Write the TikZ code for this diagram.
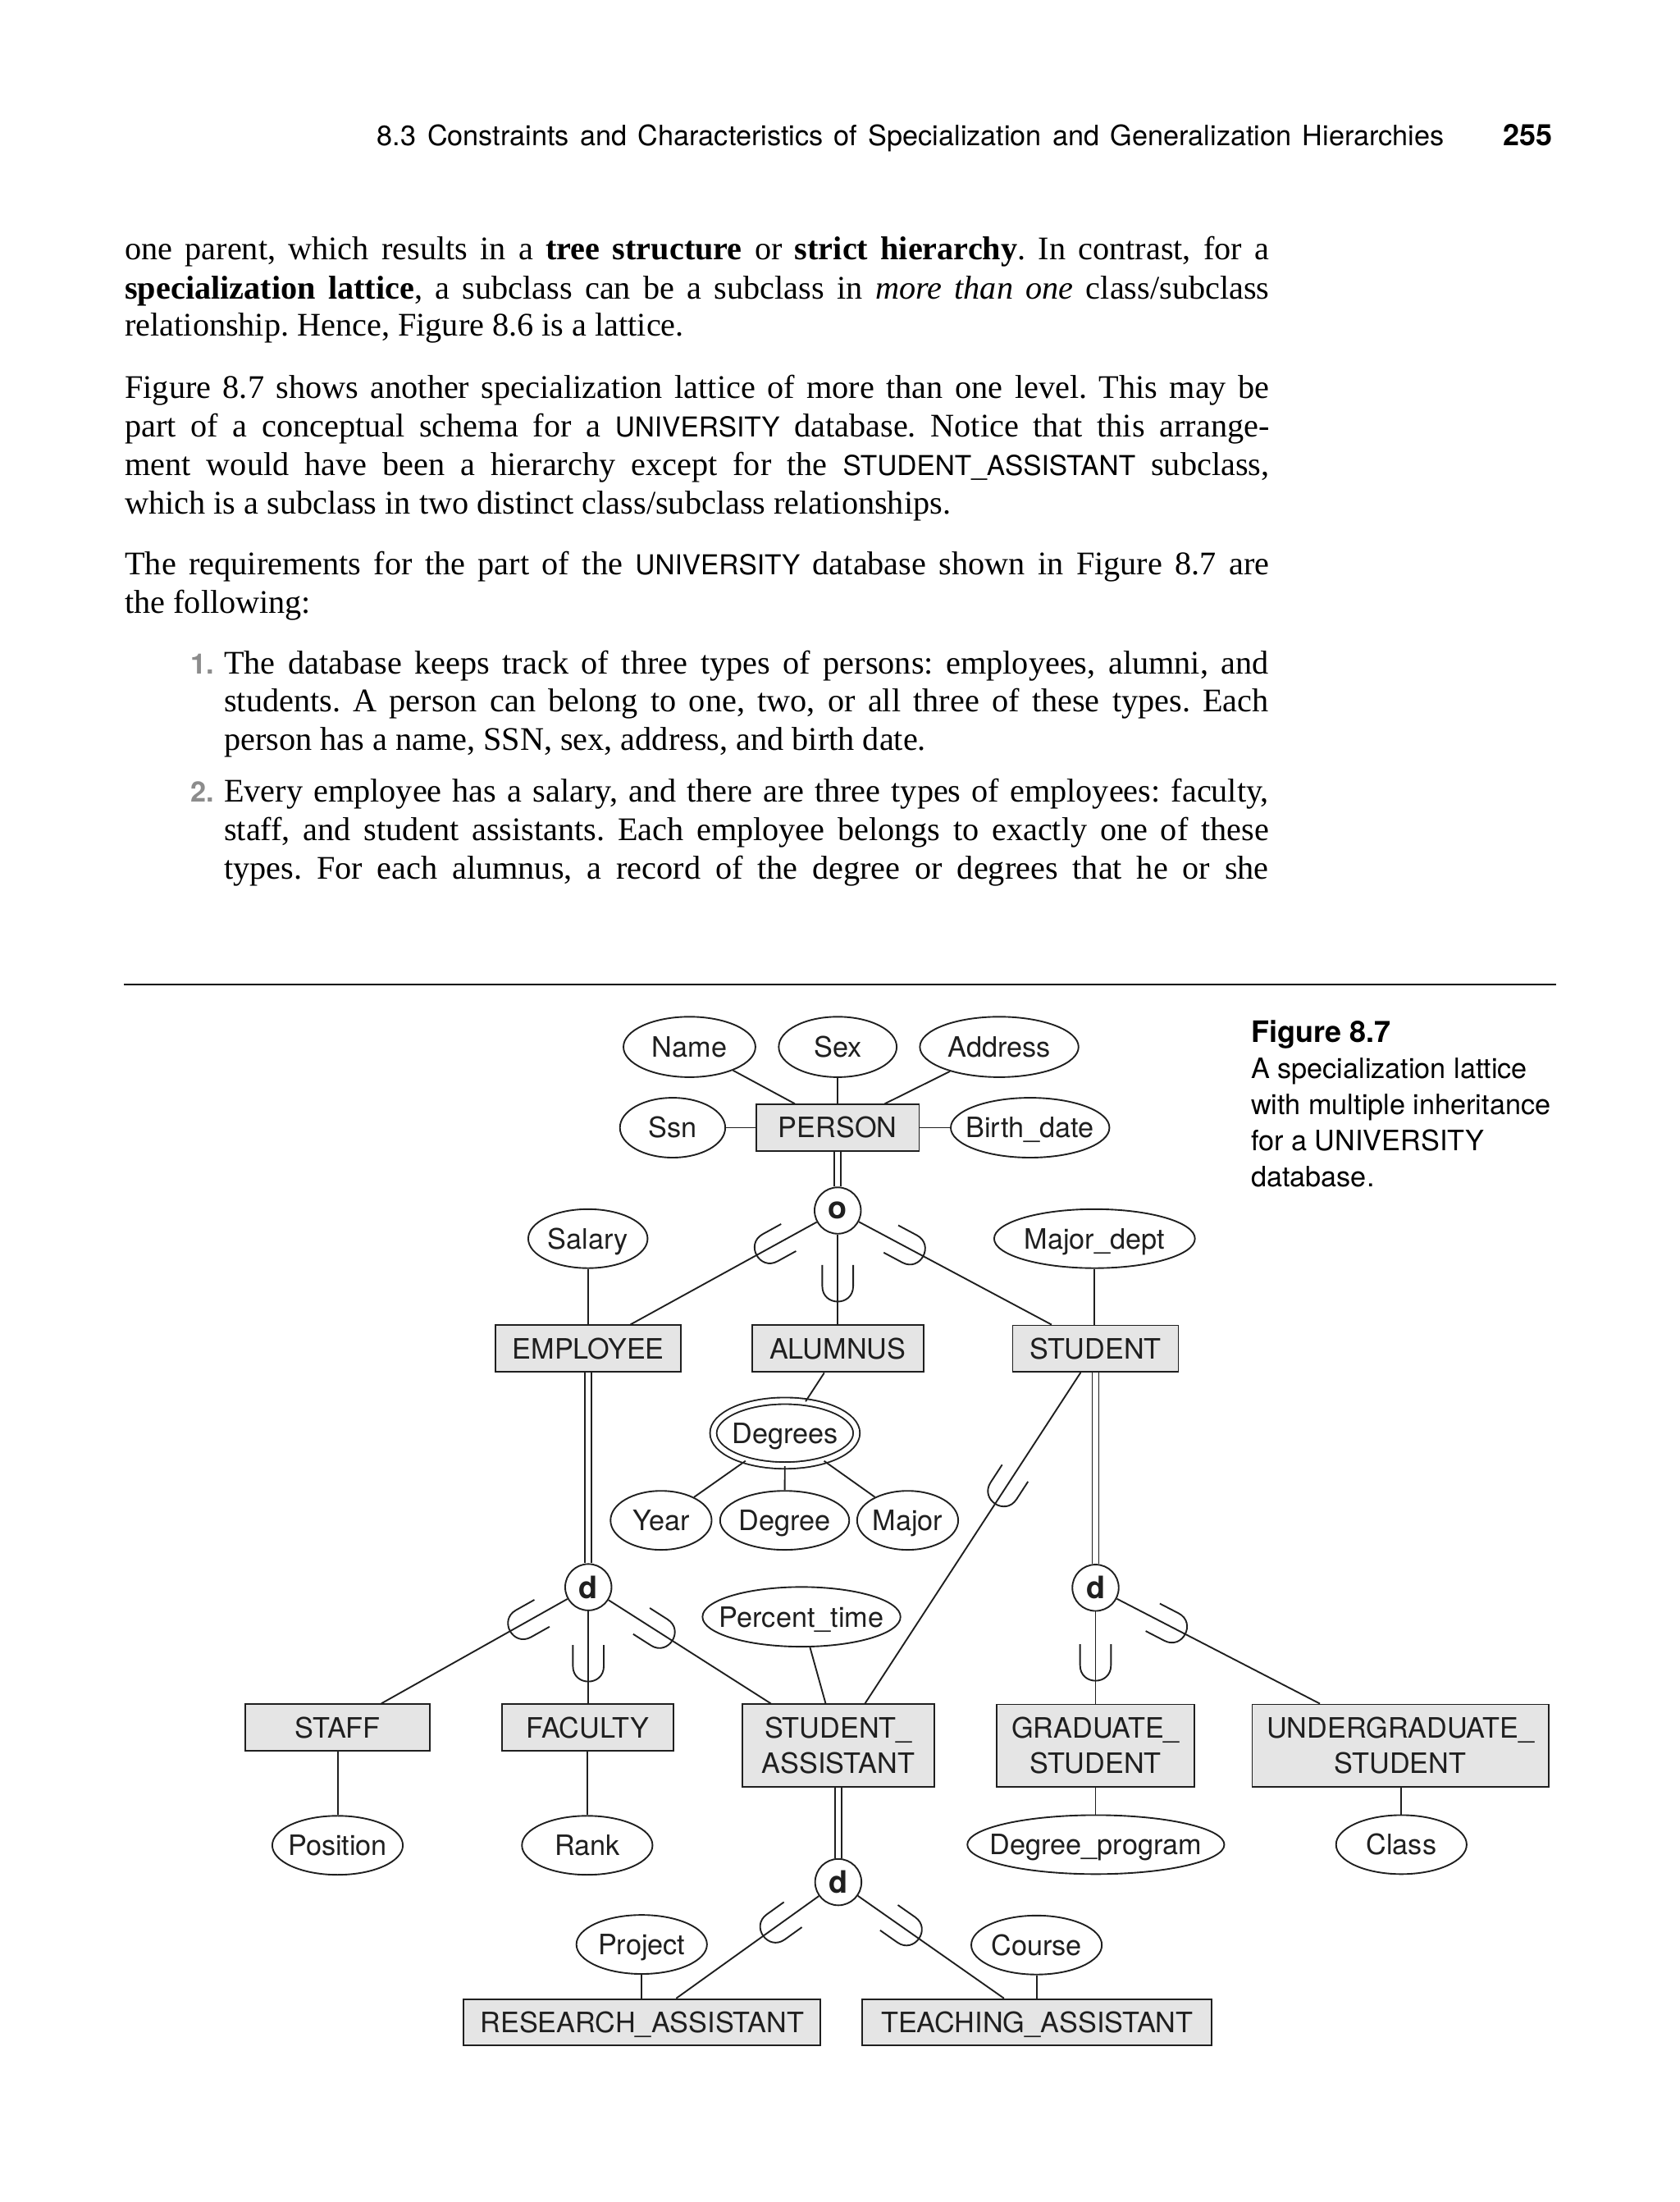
\documentclass[tikz,border=0pt]{standalone}
\usepackage{fontspec}
\setmainfont{Liberation Serif}
\setsansfont{TeX Gyre Heros}
\usetikzlibrary{shapes.geometric,calc}
\definecolor{boxfill}{gray}{0.9}
\definecolor{ink}{gray}{0.12}
\definecolor{numgray}{gray}{0.55}
\newcommand{\bodyfnt}{\fontsize{23.5pt}{28pt}\selectfont\frenchspacing}
\newcommand{\usf}[1]{{\fontsize{19.5pt}{24pt}\sffamily #1}}
\newcommand{\dfnt}{\fontsize{20pt}{25pt}\sffamily}
\newcommand{\zt}[1]{\makebox[0pt][c]{#1}}
\tikzset{
  txt/.style={anchor=base west, inner sep=0pt, outer sep=0pt, font=\bodyfnt},
  hdr/.style={anchor=base west, inner sep=0pt, outer sep=0pt, font=\fontsize{20pt}{24pt}\sffamily},
  captxt/.style={anchor=base west, inner sep=0pt, outer sep=0pt, font=\fontsize{20pt}{25pt}\sffamily},
  numtxt/.style={anchor=base west, inner sep=0pt, outer sep=0pt, font=\fontsize{20pt}{24pt}\sffamily\bfseries, text=numgray},
  attr/.style={ellipse, draw=ink, line width=1.1pt, inner sep=0pt, font=\dfnt, text=ink, text height=14.4pt, text depth=0pt},
  ent/.style={rectangle, draw=ink, fill=boxfill, line width=1.1pt, inner sep=0pt, font=\dfnt, text=ink, align=center},
  ent1/.style={ent, text height=14.4pt, text depth=0pt},
  spec/.style={circle, draw=ink, line width=1.1pt, inner sep=0pt, minimum size=33pt, font=\fontsize{22pt}{24pt}\sffamily\bfseries, text=ink},
  conn/.style={draw=ink, line width=1.1pt},
  dbl/.style={draw=ink, line width=1.1pt, double, double distance=3.6pt},
  subsetcup/.pic={\draw[conn] (0,-11) -- (15,-11) .. controls (29.67,-11) and (29.67,11) .. (15,11) -- (0,11);},
  cupat/.style={pos=#1, sloped, allow upside down},
}
\begin{document}
\begin{tikzpicture}[x=1pt,y=-1pt]
\useasboundingbox (0,0) rectangle (1196,1568);
\fill[white] (0,0) rectangle (1196,1568);

% running head
\node[hdr] (hd) at (268.6,103.7) {\makebox[760pt][s]{8.3\hspace{8pt}Constraints and Characteristics of Specialization and Generalization Hierarchies}};
\node[anchor=base east, inner sep=0pt, font=\fontsize{21pt}{24pt}\sffamily\bfseries] (pg) at (1105.6,103.7) {255};

% body text
\node[txt] (t1) at (89,185) {\makebox[815pt][s]{one parent, which results in a \textbf{tree structure} or \textbf{strict hierarchy}. In contrast, for a}};
\node[txt] (t2) at (89,212.7) {\makebox[815pt][s]{\textbf{specialization lattice}, a subclass can be a subclass in \textit{more than one} class/subclass}};
\node[txt] (t3) at (89,239.3) {relationship. Hence, Figure 8.6 is a lattice.};
\node[txt] (t4) at (89,283.4) {\makebox[815pt][s]{Figure 8.7 shows another specialization lattice of more than one level. This may be}};
\node[txt] (t5) at (89,311) {\makebox[815pt][s]{part of a conceptual schema for a \usf{UNIVERSITY} database. Notice that this arrange-}};
\node[txt] (t6) at (89,338.3) {\makebox[815pt][s]{ment would have been a hierarchy except for the \usf{STUDENT\_ASSISTANT} subclass,}};
\node[txt] (t7) at (89,366) {which is a subclass in two distinct class/subclass relationships.};
\node[txt] (t8) at (89,409) {\makebox[815pt][s]{The requirements for the part of the \usf{UNIVERSITY} database shown in Figure 8.7 are}};
\node[txt] (t9) at (89,436.8) {the following:};
\node[numtxt] (n1) at (135.9,480) {1.};
\node[txt] (t10) at (159.6,480) {\makebox[744pt][s]{The database keeps track of three types of persons: employees, alumni, and}};
\node[txt] (t11) at (159.6,506.5) {\makebox[744pt][s]{students. A person can belong to one, two, or all three of these types. Each}};
\node[txt] (t12) at (159.6,534) {person has a name, SSN, sex, address, and birth date.};
\node[numtxt] (n2) at (135.9,571) {2.};
\node[txt] (t13) at (159.6,571) {\makebox[744pt][s]{Every employee has a salary, and there are three types of employees: faculty,}};
\node[txt] (t14) at (159.6,598.6) {\makebox[744pt][s]{staff, and student assistants. Each employee belongs to exactly one of these}};
\node[txt] (t15) at (159.6,626) {\makebox[744pt][s]{types. For each alumnus, a record of the degree or degrees that he or she}};

% rule
\draw[line width=1.6pt, black] (88.3,701) -- (1108,701);

% caption
\node[captxt, font=\fontsize{21pt}{25pt}\sffamily\bfseries] (c0) at (891,742) {Figure 8.7};
\node[captxt] (c1) at (891,768) {A specialization lattice};
\node[captxt] (c2) at (891,793.5) {with multiple inheritance};
\node[captxt] (c3) at (891,819.5) {for a UNIVERSITY};
\node[captxt] (c4) at (891,845) {database.};

% diagram nodes
\node[attr, minimum width=94pt, minimum height=43pt] (Name) at (491,745.5) {\zt{Name}};
\node[attr, minimum width=84pt, minimum height=43pt] (Sex) at (596.6,745.5) {\zt{Sex}};
\node[attr, minimum width=113pt, minimum height=43pt] (Address) at (711.6,745.5) {\zt{Address}};
\node[attr, minimum width=75pt, minimum height=42.6pt] (Ssn) at (479,803) {\zt{Ssn}};
\node[ent1, minimum width=116pt, minimum height=33pt] (PERSON) at (596.6,803) {PERSON};
\node[attr, minimum width=113pt, minimum height=42.6pt] (Birth) at (733.6,803) {\zt{Birth\_date}};
\node[spec] (o) at (596.6,862) {o};
\node[attr, minimum width=85pt, minimum height=42pt] (Salary) at (418.7,882) {\zt{Salary}};
\node[attr, minimum width=143pt, minimum height=42pt] (MajorDept) at (779.5,882) {\zt{Major\_dept}};
\node[ent1, minimum width=132pt, minimum height=33.2pt] (EMPLOYEE) at (419,960.3) {EMPLOYEE};
\node[ent1, minimum width=122pt, minimum height=33.4pt] (ALUMNUS) at (596.6,960.3) {ALUMNUS};
\node[ent1, minimum width=118pt, minimum height=33pt] (STUDENT) at (780.2,960.3) {STUDENT};
\node[attr, double, double distance=3.6pt, minimum width=102pt, minimum height=46pt] (Degrees) at (559,1020.5) {\zt{Degrees}};
\node[attr, minimum width=72pt, minimum height=42pt] (Year) at (470.8,1082.6) {\zt{Year}};
\node[attr, minimum width=92pt, minimum height=42pt] (Degree) at (558.8,1082.6) {\zt{Degree}};
\node[attr, minimum width=72pt, minimum height=42pt] (MajorA) at (646.4,1082.6) {\zt{Major}};
\node[spec] (d1) at (419,1130.2) {d};
\node[spec] (d2) at (780.2,1130.6) {d};
\node[attr, minimum width=141pt, minimum height=42.5pt] (Percent) at (570.8,1151.3) {\zt{Percent\_time}};
\node[ent1, minimum width=131.6pt, minimum height=33.2pt] (STAFF) at (240.5,1230.2) {STAFF};
\node[ent1, minimum width=122pt, minimum height=33.2pt] (FACULTY) at (418.5,1230.2) {FACULTY};
\node[ent, minimum width=136.7pt, minimum height=59pt] (SA) at (597,1243.1) {STUDENT\_\\ASSISTANT};
\node[ent, minimum width=140.8pt, minimum height=58.6pt] (GS) at (780.2,1243) {GRADUATE\_\\STUDENT};
\node[ent, minimum width=211pt, minimum height=58.6pt] (UGS) at (997.3,1243) {UNDERGRADUATE\_\\STUDENT};
\node[attr, minimum width=93pt, minimum height=42pt] (Position) at (240.4,1314) {\zt{Position}};
\node[attr, minimum width=93pt, minimum height=42pt] (Rank) at (418.2,1314) {\zt{Rank}};
\node[attr, minimum width=183pt, minimum height=42pt] (DegProg) at (780.4,1313.5) {\zt{Degree\_program}};
\node[attr, minimum width=93pt, minimum height=42pt] (Class) at (998,1313.5) {\zt{Class}};
\node[spec] (d3) at (597,1340.2) {d};
\node[attr, minimum width=93pt, minimum height=42pt] (Project) at (457,1384.6) {\zt{Project}};
\node[attr, minimum width=93pt, minimum height=42pt] (Course) at (738.2,1385) {\zt{Course}};
\node[ent1, minimum width=254pt, minimum height=33pt] (RA) at (457.3,1440) {RESEARCH\_ASSISTANT};
\node[ent1, minimum width=249pt, minimum height=33pt] (TA) at (738.6,1440) {TEACHING\_ASSISTANT};

% attachment points
\coordinate (pN1) at ($(PERSON.north)+(-30.5,0)$);
\coordinate (pN2) at ($(PERSON.north)+(33.5,0)$);
\coordinate (aE) at ($(EMPLOYEE.north)+(30,0)$);
\coordinate (aS) at ($(STUDENT.north)+(-31.3,0)$);
\coordinate (aAl) at ($(ALUMNUS.south)+(-9.6,0)$);
\coordinate (aSt) at ($(STAFF.north)+(31,0)$);
\coordinate (aSA1) at ($(SA.north)+(-48,0)$);
\coordinate (aSA2) at ($(SA.north)+(-9,0)$);
\coordinate (aSA3) at ($(SA.north)+(19,0)$);
\coordinate (aStu) at ($(STUDENT.south)+(-10.6,0)$);
\coordinate (aUG) at ($(UGS.north)+(-57.3,0)$);
\coordinate (aRA) at ($(RA.north)+(24.3,0)$);
\coordinate (aTA) at ($(TA.north)+(-23.6,0)$);

% connectors
\draw[conn] (Name) -- (pN1);
\draw[conn] (Sex) -- (Sex |- PERSON.north);
\draw[conn] (Address) -- (pN2);
\draw[conn] (Ssn) -- (PERSON);
\draw[conn] (PERSON) -- (Birth);
\draw[dbl] (PERSON) -- (o);
\draw[conn] (o) -- (aE);
\draw[conn] (o) -- (o |- ALUMNUS.north);
\draw[conn] (o) -- (aS);
\draw[conn] (Salary) -- (Salary |- EMPLOYEE.north);
\draw[conn] (MajorDept) -- (MajorDept |- STUDENT.north);
\draw[conn] (aAl) -- (Degrees);
\draw[conn] (Degrees) -- (Year);
\draw[conn] (Degrees) -- (Degree);
\draw[conn] (Degrees) -- (MajorA);
\draw[dbl] (EMPLOYEE) -- (d1);
\draw[conn] (d1) -- (aSt);
\draw[conn] (d1) -- (d1 |- FACULTY.north);
\draw[conn] (d1) -- (aSA1);
\draw[conn] (Percent) -- (aSA2);
\draw[conn] (aStu) -- (aSA3);
\draw[conn] (STAFF) -- (STAFF |- Position.north);
\draw[conn] (FACULTY) -- (FACULTY |- Rank.north);
\draw[dbl] (STUDENT) -- (d2);
\draw[conn] (d2) -- (d2 |- GS.north);
\draw[conn] (d2) -- (aUG);
\draw[conn] (GS) -- (GS |- DegProg.north);
\draw[conn] (Class) -- (Class |- UGS.south);
\draw[dbl] (SA) -- (d3);
\draw[conn] (d3) -- (aRA);
\draw[conn] (d3) -- (aTA);
\draw[conn] (Project) -- (Project |- RA.north);
\draw[conn] (Course) -- (Course |- TA.north);

% subset symbols
\path (o.center) -- (aE) pic[cupat=0.237] {subsetcup};
\path (o.center) -- (o |- ALUMNUS.north) pic[cupat=0.479] {subsetcup};
\path (o.center) -- (aS) pic[cupat=0.249] {subsetcup};
\path (d1.center) -- (aSt) pic[cupat=0.224] {subsetcup};
\path (d1.center) -- (d1 |- FACULTY.north) pic[cupat=0.497] {subsetcup};
\path (d1.center) -- (aSA1) pic[cupat=0.291] {subsetcup};
\path (d2.center) -- (d2 |- GS.north) pic[cupat=0.487] {subsetcup};
\path (d2.center) -- (aUG) pic[cupat=0.255] {subsetcup};
\path (d3.center) -- (aRA) pic[cupat=0.28] {subsetcup};
\path (d3.center) -- (aTA) pic[cupat=0.306] {subsetcup};
\path (aStu) -- (aSA3) pic[cupat=0.304] {subsetcup};
\end{tikzpicture}
\end{document}
